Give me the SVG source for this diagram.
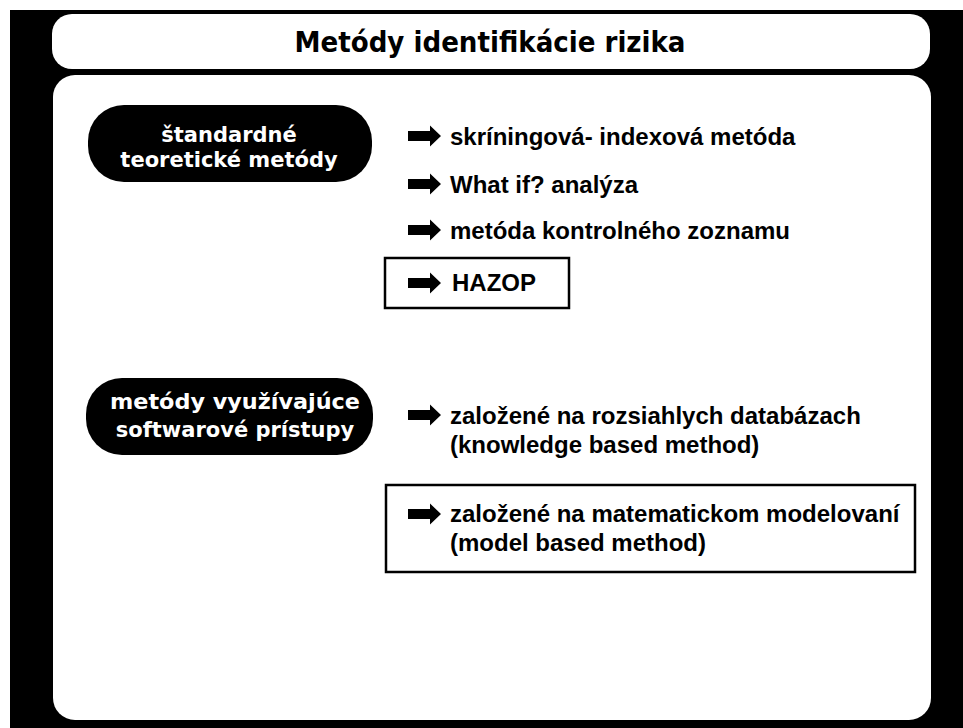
<svg xmlns="http://www.w3.org/2000/svg" xmlns:xlink="http://www.w3.org/1999/xlink" width="963" height="728" viewBox="0 0 963 728">
  <style>
    .title { font-family: "DejaVu Sans Condensed", "DejaVu Sans", sans-serif; font-stretch: condensed; font-weight: bold; font-size: 28px; fill: #000; }
    .pill { fill: #000; }
    .pilltext { font-family: "DejaVu Sans", Verdana, sans-serif; font-weight: bold; font-size: 21px; fill: #fff; }
    .item { font-family: "Liberation Sans", Arial, sans-serif; font-weight: bold; font-size: 24px; fill: #000; }
    .frame { fill: none; stroke: #000; stroke-width: 2.5; }
  </style>
  <defs>
    <!-- block arrow used as a bullet, origin at its left end, vertically centred -->
    <path id="arrow" d="M0,-5 H22 V-10.5 L33,0 L22,10.5 V5 H0 Z" fill="#000"/>
  </defs>

  <!-- page background -->
  <rect x="0" y="0" width="963" height="728" fill="#fff"/>
  <rect x="10" y="10" width="953" height="718" fill="#000"/>

  <!-- title bar -->
  <g id="title">
    <rect x="52" y="14" width="878" height="55" rx="20" ry="20" fill="#fff"/>
    <text class="title" x="490" y="52" text-anchor="middle" textLength="391" lengthAdjust="spacingAndGlyphs">Metódy identifikácie rizika</text>
  </g>

  <!-- main panel -->
  <g id="panel">
    <rect x="53" y="75" width="878" height="645" rx="22" ry="22" fill="#fff"/>
  </g>

  <!-- category: standard theoretical methods -->
  <g id="standard-methods">
    <rect class="pill" x="88" y="105" width="284" height="77" rx="36" ry="36"/>
    <text class="pilltext" x="229" y="142" text-anchor="middle">štandardné</text>
    <text class="pilltext" x="229" y="167" text-anchor="middle">teoretické metódy</text>
  </g>

  <!-- category: software-based methods -->
  <g id="software-methods">
    <rect class="pill" x="86" y="378" width="287" height="77" rx="36" ry="36"/>
    <text class="pilltext" x="235" y="409" text-anchor="middle" textLength="250" lengthAdjust="spacingAndGlyphs">metódy využívajúce</text>
    <text class="pilltext" x="235" y="437" text-anchor="middle">softwarové prístupy</text>
  </g>

  <!-- method items -->
  <g id="item-screening">
    <text class="item" x="450" y="145">skríningová- indexová metóda</text>
  </g>
  <g id="item-whatif">
    <text class="item" x="450" y="193">What if? analýza</text>
  </g>
  <g id="item-checklist">
    <text class="item" x="450" y="239">metóda kontrolného zoznamu</text>
  </g>
  <g id="item-hazop">
    <rect class="frame" x="385" y="258" width="184" height="50"/>
    <text class="item" x="452" y="291">HAZOP</text>
  </g>
  <g id="item-knowledge">
    <text class="item" x="450" y="424">založené na rozsiahlych databázach</text>
    <text class="item" x="450" y="453">(knowledge based method)</text>
  </g>
  <g id="item-model">
    <rect class="frame" x="386" y="485" width="529" height="87"/>
    <text class="item" x="450" y="522">založené na matematickom modelovaní</text>
    <text class="item" x="450" y="551">(model based method)</text>
  </g>

  <!-- arrow bullets -->
  <g id="connectors">
    <use xlink:href="#arrow" x="408" y="136"/>
    <use xlink:href="#arrow" x="408" y="184"/>
    <use xlink:href="#arrow" x="408" y="230"/>
    <use xlink:href="#arrow" x="408" y="283"/>
    <use xlink:href="#arrow" x="408" y="415"/>
    <use xlink:href="#arrow" x="408" y="514"/>
  </g>
</svg>
